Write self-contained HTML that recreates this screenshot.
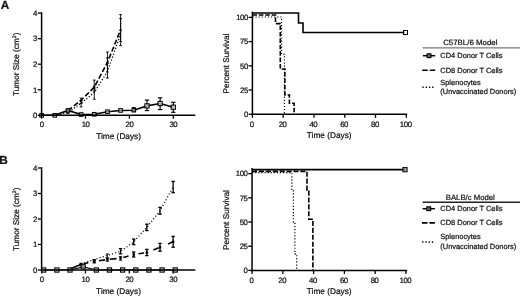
<!DOCTYPE html>
<html><head><meta charset="utf-8"><title>Figure</title>
<style>html,body{margin:0;padding:0;background:#fff;}svg{display:block;will-change:transform;}text{text-rendering:geometricPrecision;}</style>
</head><body>
<svg width="520" height="298" viewBox="0 0 520 298" font-family='"Liberation Sans", Arial, sans-serif' fill="#111" stroke="#000">
<rect width="520" height="298" fill="#fff" stroke="none"/>
<g id="A-left">
<path d="M67.94 110.45 L81.11 100.23 L94.28 87.19 L107.45 62.41 L120.62 29.71" fill="none" stroke-width="1.6" stroke-dasharray="5.2 2.3"/>
<path d="M41.60 115.30 L54.77 115.30 L67.94 112.74 L81.11 103.04 L94.28 92.56 L107.45 71.35 L120.62 34.05" fill="none" stroke-width="1.3" stroke-dasharray="1.2 1.9"/>
<line x1="81.11" y1="98.10" x2="81.11" y2="103.50" stroke-width="0.9"/>
<line x1="79.71" y1="98.10" x2="82.51" y2="98.10" stroke-width="0.9"/>
<line x1="79.71" y1="103.50" x2="82.51" y2="103.50" stroke-width="0.9"/>
<line x1="81.11" y1="100.50" x2="81.11" y2="107.00" stroke-width="0.9"/>
<line x1="79.71" y1="100.50" x2="82.51" y2="100.50" stroke-width="0.9"/>
<line x1="79.71" y1="107.00" x2="82.51" y2="107.00" stroke-width="0.9"/>
<line x1="94.28" y1="80.10" x2="94.28" y2="91.20" stroke-width="0.9"/>
<line x1="92.88" y1="80.10" x2="95.68" y2="80.10" stroke-width="0.9"/>
<line x1="92.88" y1="91.20" x2="95.68" y2="91.20" stroke-width="0.9"/>
<line x1="94.28" y1="86.00" x2="94.28" y2="99.20" stroke-width="0.9"/>
<line x1="92.88" y1="86.00" x2="95.68" y2="86.00" stroke-width="0.9"/>
<line x1="92.88" y1="99.20" x2="95.68" y2="99.20" stroke-width="0.9"/>
<line x1="107.45" y1="52.00" x2="107.45" y2="72.00" stroke-width="0.9"/>
<line x1="106.05" y1="52.00" x2="108.85" y2="52.00" stroke-width="0.9"/>
<line x1="106.05" y1="72.00" x2="108.85" y2="72.00" stroke-width="0.9"/>
<line x1="107.45" y1="57.80" x2="107.45" y2="78.00" stroke-width="0.9"/>
<line x1="106.05" y1="57.80" x2="108.85" y2="57.80" stroke-width="0.9"/>
<line x1="106.05" y1="78.00" x2="108.85" y2="78.00" stroke-width="0.9"/>
<line x1="120.62" y1="14.60" x2="120.62" y2="41.60" stroke-width="0.9"/>
<line x1="119.22" y1="14.60" x2="122.02" y2="14.60" stroke-width="0.9"/>
<line x1="119.22" y1="41.60" x2="122.02" y2="41.60" stroke-width="0.9"/>
<line x1="120.62" y1="18.50" x2="120.62" y2="45.60" stroke-width="0.9"/>
<line x1="119.22" y1="18.50" x2="122.02" y2="18.50" stroke-width="0.9"/>
<line x1="119.22" y1="45.60" x2="122.02" y2="45.60" stroke-width="0.9"/>
<line x1="67.94" y1="109.50" x2="67.94" y2="113.50" stroke-width="0.9"/>
<line x1="66.54" y1="109.50" x2="69.34" y2="109.50" stroke-width="0.9"/>
<line x1="66.54" y1="113.50" x2="69.34" y2="113.50" stroke-width="0.9"/>
<path d="M66.34 111.75 L69.54 111.75 L67.94 108.85Z" fill="#000" stroke="none"/>
<path d="M79.51 101.53 L82.71 101.53 L81.11 98.63Z" fill="#000" stroke="none"/>
<path d="M92.68 88.49 L95.88 88.49 L94.28 85.59Z" fill="#000" stroke="none"/>
<path d="M105.85 63.71 L109.05 63.71 L107.45 60.81Z" fill="#000" stroke="none"/>
<path d="M119.02 31.01 L122.22 31.01 L120.62 28.11Z" fill="#000" stroke="none"/>
<path d="M41.60 115.30 L54.77 115.30 L67.94 110.45 L81.11 114.53 L94.28 114.28 L107.45 111.72 L120.62 110.45 L133.79 110.19 L146.96 105.90 L160.13 103.50 L173.30 107.20" fill="none" stroke-width="1.6"/>
<line x1="146.96" y1="100.10" x2="146.96" y2="110.60" stroke-width="1.15"/>
<line x1="144.76" y1="100.10" x2="149.16" y2="100.10" stroke-width="1.15"/>
<line x1="144.76" y1="110.60" x2="149.16" y2="110.60" stroke-width="1.15"/>
<line x1="160.13" y1="97.80" x2="160.13" y2="109.60" stroke-width="1.15"/>
<line x1="157.93" y1="97.80" x2="162.33" y2="97.80" stroke-width="1.15"/>
<line x1="157.93" y1="109.60" x2="162.33" y2="109.60" stroke-width="1.15"/>
<line x1="173.30" y1="102.30" x2="173.30" y2="112.30" stroke-width="1.15"/>
<line x1="171.10" y1="102.30" x2="175.50" y2="102.30" stroke-width="1.15"/>
<line x1="171.10" y1="112.30" x2="175.50" y2="112.30" stroke-width="1.15"/>
<line x1="133.79" y1="107.50" x2="133.79" y2="111.50" stroke-width="0.9"/>
<line x1="131.99" y1="107.50" x2="135.59" y2="107.50" stroke-width="0.9"/>
<line x1="131.99" y1="111.50" x2="135.59" y2="111.50" stroke-width="0.9"/>
<rect x="39.80" y="113.50" width="3.6" height="3.6" fill="#fff" fill-opacity="0.45" stroke-width="1.05"/>
<rect x="52.97" y="113.50" width="3.6" height="3.6" fill="#fff" fill-opacity="0.45" stroke-width="1.05"/>
<rect x="66.14" y="108.65" width="3.6" height="3.6" fill="#fff" fill-opacity="0.45" stroke-width="1.05"/>
<rect x="79.31" y="112.73" width="3.6" height="3.6" fill="#fff" fill-opacity="0.45" stroke-width="1.05"/>
<rect x="92.48" y="112.48" width="3.6" height="3.6" fill="#fff" fill-opacity="0.45" stroke-width="1.05"/>
<rect x="105.65" y="109.92" width="3.6" height="3.6" fill="#fff" fill-opacity="0.45" stroke-width="1.05"/>
<rect x="118.82" y="108.65" width="3.6" height="3.6" fill="#fff" fill-opacity="0.45" stroke-width="1.05"/>
<rect x="131.99" y="108.39" width="3.6" height="3.6" fill="#fff" fill-opacity="0.45" stroke-width="1.05"/>
<rect x="144.86" y="103.80" width="4.2" height="4.2" fill="#fff" fill-opacity="0.65" stroke-width="1.05"/>
<rect x="158.03" y="101.40" width="4.2" height="4.2" fill="#fff" fill-opacity="0.65" stroke-width="1.05"/>
<rect x="171.20" y="105.10" width="4.2" height="4.2" fill="#fff" fill-opacity="0.65" stroke-width="1.05"/>
<g>
<line x1="41.60" y1="12.25" x2="41.60" y2="116.05" stroke-width="1.5"/>
<line x1="40.85" y1="115.30" x2="195.30" y2="115.30" stroke-width="1.5"/>
<line x1="37.80" y1="115.30" x2="41.60" y2="115.30" stroke-width="1.3"/>
<text stroke="#111" stroke-width="0.22" x="36.80" y="118.10" font-size="7.8" text-anchor="end" letter-spacing="-0.45">0</text>
<line x1="37.80" y1="89.75" x2="41.60" y2="89.75" stroke-width="1.3"/>
<text stroke="#111" stroke-width="0.22" x="36.80" y="92.55" font-size="7.8" text-anchor="end" letter-spacing="-0.45">1</text>
<line x1="37.80" y1="64.20" x2="41.60" y2="64.20" stroke-width="1.3"/>
<text stroke="#111" stroke-width="0.22" x="36.80" y="67.00" font-size="7.8" text-anchor="end" letter-spacing="-0.45">2</text>
<line x1="37.80" y1="38.65" x2="41.60" y2="38.65" stroke-width="1.3"/>
<text stroke="#111" stroke-width="0.22" x="36.80" y="41.45" font-size="7.8" text-anchor="end" letter-spacing="-0.45">3</text>
<line x1="37.80" y1="13.10" x2="41.60" y2="13.10" stroke-width="1.3"/>
<text stroke="#111" stroke-width="0.22" x="36.80" y="15.90" font-size="7.8" text-anchor="end" letter-spacing="-0.45">4</text>
<line x1="41.60" y1="115.30" x2="41.60" y2="118.70" stroke-width="1.3"/>
<text stroke="#111" stroke-width="0.22" x="41.65" y="127.00" font-size="7.8" text-anchor="middle" letter-spacing="-0.45">0</text>
<line x1="85.50" y1="115.30" x2="85.50" y2="118.70" stroke-width="1.3"/>
<text stroke="#111" stroke-width="0.22" x="85.55" y="127.00" font-size="7.8" text-anchor="middle" letter-spacing="-0.45">10</text>
<line x1="129.40" y1="115.30" x2="129.40" y2="118.70" stroke-width="1.3"/>
<text stroke="#111" stroke-width="0.22" x="129.45" y="127.00" font-size="7.8" text-anchor="middle" letter-spacing="-0.45">20</text>
<line x1="173.30" y1="115.30" x2="173.30" y2="118.70" stroke-width="1.3"/>
<text stroke="#111" stroke-width="0.22" x="173.35" y="127.00" font-size="7.8" text-anchor="middle" letter-spacing="-0.45">30</text>
<text stroke="#111" stroke-width="0.22" x="118.62" y="139.00" font-size="8.25" text-anchor="middle" textLength="44.80" lengthAdjust="spacingAndGlyphs">Time (Days)</text>
<text stroke="#111" stroke-width="0.22" x="19.20" y="64.30" font-size="8.25" text-anchor="middle" textLength="63.4" lengthAdjust="spacingAndGlyphs" transform="rotate(-90 19.20 64.30)">Tumor Size (cm<tspan font-size="5.2" dy="-3">2</tspan><tspan dy="3">)</tspan></text>
<text stroke="#111" stroke-width="0.22" x="0.70" y="8.70" font-size="11.8" text-anchor="start" font-weight="bold">A</text>
</g></g>
<g id="A-right">
<path d="M252.40 13.00 L298.50 13.00 L298.50 23.00 L303.00 23.00 L303.00 32.50 L405.00 32.50" fill="none" stroke-width="1.6" stroke-linejoin="miter"/>
<rect x="403.50" y="30.50" width="4.0" height="4.0" fill="#fff" fill-opacity="0.55" stroke-width="1.0"/>
<path d="M252.40 15.00 L275.50 15.00 L275.50 23.60 L280.30 23.60 L280.30 69.00 L284.90 69.00 L284.90 95.00 L289.40 95.00 L289.40 103.30 L294.10 103.30 L294.10 113.40" fill="none" stroke-width="1.6" stroke-dasharray="4.6 1.8"/>
<path d="M252.40 17.00 L281.60 17.00 L281.60 54.20 L284.40 54.20 L284.40 113.40" fill="none" stroke-width="1.1" stroke-dasharray="1.2 1.9"/>
<g>
<line x1="252.40" y1="11.65" x2="252.40" y2="115.00" stroke-width="1.5"/>
<line x1="251.65" y1="114.25" x2="407.20" y2="114.25" stroke-width="1.5"/>
<line x1="248.60" y1="114.25" x2="252.40" y2="114.25" stroke-width="1.3"/>
<text stroke="#111" stroke-width="0.22" x="247.80" y="117.05" font-size="7.8" text-anchor="end" letter-spacing="-0.45">0</text>
<line x1="248.60" y1="90.04" x2="252.40" y2="90.04" stroke-width="1.3"/>
<text stroke="#111" stroke-width="0.22" x="247.80" y="92.84" font-size="7.8" text-anchor="end" letter-spacing="-0.45">25</text>
<line x1="248.60" y1="65.82" x2="252.40" y2="65.82" stroke-width="1.3"/>
<text stroke="#111" stroke-width="0.22" x="247.80" y="68.62" font-size="7.8" text-anchor="end" letter-spacing="-0.45">50</text>
<line x1="248.60" y1="41.61" x2="252.40" y2="41.61" stroke-width="1.3"/>
<text stroke="#111" stroke-width="0.22" x="247.80" y="44.41" font-size="7.8" text-anchor="end" letter-spacing="-0.45">75</text>
<line x1="248.60" y1="17.40" x2="252.40" y2="17.40" stroke-width="1.3"/>
<text stroke="#111" stroke-width="0.22" x="247.80" y="20.20" font-size="7.8" text-anchor="end" letter-spacing="-0.45">100</text>
<line x1="252.40" y1="114.25" x2="252.40" y2="117.85" stroke-width="1.3"/>
<text stroke="#111" stroke-width="0.22" x="251.80" y="126.60" font-size="7.8" text-anchor="middle" letter-spacing="-0.45">0</text>
<line x1="283.18" y1="114.25" x2="283.18" y2="117.85" stroke-width="1.3"/>
<text stroke="#111" stroke-width="0.22" x="282.58" y="126.60" font-size="7.8" text-anchor="middle" letter-spacing="-0.45">20</text>
<line x1="313.96" y1="114.25" x2="313.96" y2="117.85" stroke-width="1.3"/>
<text stroke="#111" stroke-width="0.22" x="313.36" y="126.60" font-size="7.8" text-anchor="middle" letter-spacing="-0.45">40</text>
<line x1="344.74" y1="114.25" x2="344.74" y2="117.85" stroke-width="1.3"/>
<text stroke="#111" stroke-width="0.22" x="344.14" y="126.60" font-size="7.8" text-anchor="middle" letter-spacing="-0.45">60</text>
<line x1="375.52" y1="114.25" x2="375.52" y2="117.85" stroke-width="1.3"/>
<text stroke="#111" stroke-width="0.22" x="374.92" y="126.60" font-size="7.8" text-anchor="middle" letter-spacing="-0.45">80</text>
<line x1="406.30" y1="114.25" x2="406.30" y2="117.85" stroke-width="1.3"/>
<text stroke="#111" stroke-width="0.22" x="405.70" y="126.60" font-size="7.8" text-anchor="middle" letter-spacing="-0.45">100</text>
<text stroke="#111" stroke-width="0.22" x="329.20" y="137.70" font-size="8.25" text-anchor="middle" textLength="44.80" lengthAdjust="spacingAndGlyphs">Time (Days)</text>
<text stroke="#111" stroke-width="0.22" x="228.90" y="63.50" font-size="8.25" text-anchor="middle" textLength="59.80" lengthAdjust="spacingAndGlyphs" transform="rotate(-90 228.90 63.50)">Percent Survival</text>
</g></g>
<g id="B-left">
<line x1="70.10" y1="269.03" x2="80.60" y2="264.41" stroke-width="1.6"/>
<line x1="83.50" y1="263.70" x2="88.30" y2="262.72" stroke-width="1.6"/>
<line x1="99.00" y1="260.77" x2="105.00" y2="259.86" stroke-width="1.6"/>
<line x1="109.80" y1="259.26" x2="116.50" y2="258.60" stroke-width="1.6"/>
<line x1="123.30" y1="257.42" x2="128.50" y2="255.96" stroke-width="1.6"/>
<line x1="138.50" y1="253.77" x2="144.00" y2="252.93" stroke-width="1.6"/>
<line x1="153.40" y1="249.91" x2="158.70" y2="247.81" stroke-width="1.6"/>
<line x1="168.00" y1="243.95" x2="172.40" y2="242.11" stroke-width="1.6"/>
<rect x="79.86" y="263.00" width="2.4" height="2.4" fill="#000" stroke="none"/>
<rect x="93.02" y="260.30" width="2.4" height="2.4" fill="#000" stroke="none"/>
<rect x="106.17" y="258.30" width="2.4" height="2.4" fill="#000" stroke="none"/>
<rect x="119.33" y="257.00" width="2.4" height="2.4" fill="#000" stroke="none"/>
<rect x="132.49" y="253.30" width="2.4" height="2.4" fill="#000" stroke="none"/>
<rect x="145.64" y="251.30" width="2.4" height="2.4" fill="#000" stroke="none"/>
<rect x="158.80" y="246.10" width="2.4" height="2.4" fill="#000" stroke="none"/>
<rect x="171.95" y="240.60" width="2.4" height="2.4" fill="#000" stroke="none"/>
<path d="M81.06 264.00 L94.22 259.50 L107.38 255.50 L120.53 251.30 L133.69 241.90 L146.84 227.40 L160.00 210.80 L173.15 187.00" fill="none" stroke-width="1.2" stroke-dasharray="1.15 2.1"/>
<line x1="173.15" y1="236.40" x2="173.15" y2="247.20" stroke-width="1.3"/>
<line x1="171.45" y1="236.40" x2="174.85" y2="236.40" stroke-width="1.3"/>
<line x1="171.45" y1="247.20" x2="174.85" y2="247.20" stroke-width="1.3"/>
<line x1="160.00" y1="243.40" x2="160.00" y2="251.20" stroke-width="1.3"/>
<line x1="158.30" y1="243.40" x2="161.69" y2="243.40" stroke-width="1.3"/>
<line x1="158.30" y1="251.20" x2="161.69" y2="251.20" stroke-width="1.3"/>
<line x1="146.84" y1="249.40" x2="146.84" y2="255.60" stroke-width="1.3"/>
<line x1="145.14" y1="249.40" x2="148.54" y2="249.40" stroke-width="1.3"/>
<line x1="145.14" y1="255.60" x2="148.54" y2="255.60" stroke-width="1.3"/>
<line x1="133.69" y1="252.00" x2="133.69" y2="257.00" stroke-width="1.3"/>
<line x1="131.99" y1="252.00" x2="135.38" y2="252.00" stroke-width="1.3"/>
<line x1="131.99" y1="257.00" x2="135.38" y2="257.00" stroke-width="1.3"/>
<line x1="120.53" y1="256.60" x2="120.53" y2="260.20" stroke-width="0.9"/>
<line x1="118.83" y1="256.60" x2="122.23" y2="256.60" stroke-width="0.9"/>
<line x1="118.83" y1="260.20" x2="122.23" y2="260.20" stroke-width="0.9"/>
<line x1="107.38" y1="258.00" x2="107.38" y2="261.20" stroke-width="0.9"/>
<line x1="105.67" y1="258.00" x2="109.08" y2="258.00" stroke-width="0.9"/>
<line x1="105.67" y1="261.20" x2="109.08" y2="261.20" stroke-width="0.9"/>
<line x1="94.22" y1="260.40" x2="94.22" y2="263.00" stroke-width="0.9"/>
<line x1="92.52" y1="260.40" x2="95.92" y2="260.40" stroke-width="0.9"/>
<line x1="92.52" y1="263.00" x2="95.92" y2="263.00" stroke-width="0.9"/>
<line x1="81.06" y1="263.20" x2="81.06" y2="265.80" stroke-width="0.9"/>
<line x1="79.36" y1="263.20" x2="82.77" y2="263.20" stroke-width="0.9"/>
<line x1="79.36" y1="265.80" x2="82.77" y2="265.80" stroke-width="0.9"/>
<line x1="173.15" y1="181.40" x2="173.15" y2="192.70" stroke-width="1.3"/>
<line x1="171.45" y1="181.40" x2="174.85" y2="181.40" stroke-width="1.3"/>
<line x1="171.45" y1="192.70" x2="174.85" y2="192.70" stroke-width="1.3"/>
<line x1="160.00" y1="207.40" x2="160.00" y2="214.20" stroke-width="1.3"/>
<line x1="158.30" y1="207.40" x2="161.69" y2="207.40" stroke-width="1.3"/>
<line x1="158.30" y1="214.20" x2="161.69" y2="214.20" stroke-width="1.3"/>
<line x1="146.84" y1="224.20" x2="146.84" y2="230.60" stroke-width="1.3"/>
<line x1="145.14" y1="224.20" x2="148.54" y2="224.20" stroke-width="1.3"/>
<line x1="145.14" y1="230.60" x2="148.54" y2="230.60" stroke-width="1.3"/>
<line x1="133.69" y1="239.10" x2="133.69" y2="244.60" stroke-width="1.3"/>
<line x1="131.99" y1="239.10" x2="135.38" y2="239.10" stroke-width="1.3"/>
<line x1="131.99" y1="244.60" x2="135.38" y2="244.60" stroke-width="1.3"/>
<line x1="120.53" y1="248.60" x2="120.53" y2="253.90" stroke-width="1.3"/>
<line x1="118.83" y1="248.60" x2="122.23" y2="248.60" stroke-width="1.3"/>
<line x1="118.83" y1="253.90" x2="122.23" y2="253.90" stroke-width="1.3"/>
<line x1="107.38" y1="254.00" x2="107.38" y2="258.00" stroke-width="0.9"/>
<line x1="105.67" y1="254.00" x2="109.08" y2="254.00" stroke-width="0.9"/>
<line x1="105.67" y1="258.00" x2="109.08" y2="258.00" stroke-width="0.9"/>
<line x1="94.22" y1="259.50" x2="94.22" y2="262.00" stroke-width="0.9"/>
<line x1="92.52" y1="259.50" x2="95.92" y2="259.50" stroke-width="0.9"/>
<line x1="92.52" y1="262.00" x2="95.92" y2="262.00" stroke-width="0.9"/>
<path d="M43.70 270.00 L56.86 270.00 L70.01 270.00 L83.16 266.81 L96.32 270.00 L109.47 270.00 L122.63 270.00 L135.78 270.00 L148.94 270.00 L162.09 270.00 L175.25 270.00" fill="none" stroke-width="1.2"/>
<rect x="41.55" y="267.85" width="4.3" height="4.3" fill="#999" fill-opacity="0.6" stroke-width="1.0"/>
<rect x="54.71" y="267.85" width="4.3" height="4.3" fill="#999" fill-opacity="0.6" stroke-width="1.0"/>
<rect x="67.86" y="267.85" width="4.3" height="4.3" fill="#999" fill-opacity="0.6" stroke-width="1.0"/>
<rect x="81.01" y="264.66" width="4.3" height="4.3" fill="#999" fill-opacity="0.6" stroke-width="1.0"/>
<rect x="94.17" y="267.85" width="4.3" height="4.3" fill="#999" fill-opacity="0.6" stroke-width="1.0"/>
<rect x="107.32" y="267.85" width="4.3" height="4.3" fill="#999" fill-opacity="0.6" stroke-width="1.0"/>
<rect x="120.48" y="267.85" width="4.3" height="4.3" fill="#999" fill-opacity="0.6" stroke-width="1.0"/>
<rect x="133.63" y="267.85" width="4.3" height="4.3" fill="#999" fill-opacity="0.6" stroke-width="1.0"/>
<rect x="146.79" y="267.85" width="4.3" height="4.3" fill="#999" fill-opacity="0.6" stroke-width="1.0"/>
<rect x="159.94" y="267.85" width="4.3" height="4.3" fill="#999" fill-opacity="0.6" stroke-width="1.0"/>
<rect x="173.10" y="267.85" width="4.3" height="4.3" fill="#999" fill-opacity="0.6" stroke-width="1.0"/>
<g>
<line x1="41.60" y1="167.25" x2="41.60" y2="270.75" stroke-width="1.5"/>
<line x1="40.85" y1="270.00" x2="195.30" y2="270.00" stroke-width="1.5"/>
<line x1="37.80" y1="270.00" x2="41.60" y2="270.00" stroke-width="1.3"/>
<text stroke="#111" stroke-width="0.22" x="36.80" y="272.80" font-size="7.8" text-anchor="end" letter-spacing="-0.45">0</text>
<line x1="37.80" y1="244.50" x2="41.60" y2="244.50" stroke-width="1.3"/>
<text stroke="#111" stroke-width="0.22" x="36.80" y="247.30" font-size="7.8" text-anchor="end" letter-spacing="-0.45">1</text>
<line x1="37.80" y1="219.00" x2="41.60" y2="219.00" stroke-width="1.3"/>
<text stroke="#111" stroke-width="0.22" x="36.80" y="221.80" font-size="7.8" text-anchor="end" letter-spacing="-0.45">2</text>
<line x1="37.80" y1="193.50" x2="41.60" y2="193.50" stroke-width="1.3"/>
<text stroke="#111" stroke-width="0.22" x="36.80" y="196.30" font-size="7.8" text-anchor="end" letter-spacing="-0.45">3</text>
<line x1="37.80" y1="168.00" x2="41.60" y2="168.00" stroke-width="1.3"/>
<text stroke="#111" stroke-width="0.22" x="36.80" y="170.80" font-size="7.8" text-anchor="end" letter-spacing="-0.45">4</text>
<line x1="41.60" y1="270.00" x2="41.60" y2="273.40" stroke-width="1.3"/>
<text stroke="#111" stroke-width="0.22" x="41.65" y="281.80" font-size="7.8" text-anchor="middle" letter-spacing="-0.45">0</text>
<line x1="85.45" y1="270.00" x2="85.45" y2="273.40" stroke-width="1.3"/>
<text stroke="#111" stroke-width="0.22" x="85.50" y="281.80" font-size="7.8" text-anchor="middle" letter-spacing="-0.45">10</text>
<line x1="129.30" y1="270.00" x2="129.30" y2="273.40" stroke-width="1.3"/>
<text stroke="#111" stroke-width="0.22" x="129.35" y="281.80" font-size="7.8" text-anchor="middle" letter-spacing="-0.45">20</text>
<line x1="173.15" y1="270.00" x2="173.15" y2="273.40" stroke-width="1.3"/>
<text stroke="#111" stroke-width="0.22" x="173.20" y="281.80" font-size="7.8" text-anchor="middle" letter-spacing="-0.45">30</text>
<text stroke="#111" stroke-width="0.22" x="118.54" y="293.60" font-size="8.25" text-anchor="middle" textLength="44.80" lengthAdjust="spacingAndGlyphs">Time (Days)</text>
<text stroke="#111" stroke-width="0.22" x="19.20" y="219.30" font-size="8.25" text-anchor="middle" textLength="63.4" lengthAdjust="spacingAndGlyphs" transform="rotate(-90 19.20 219.30)">Tumor Size (cm<tspan font-size="5.2" dy="-3">2</tspan><tspan dy="3">)</tspan></text>
<text stroke="#111" stroke-width="0.22" x="-0.70" y="164.40" font-size="11.8" text-anchor="start" font-weight="bold">B</text>
</g></g>
<g id="B-right">
<path d="M252.05 169.60 L404.80 169.60" fill="none" stroke-width="1.6"/>
<rect x="402.90" y="167.60" width="4.2" height="4.2" fill="#888" fill-opacity="0.7" stroke-width="1.0"/>
<path d="M252.05 171.40 L307.00 171.40 L307.00 190.20 L308.80 190.20 L308.80 219.20 L312.90 219.20 L312.90 270.00" fill="none" stroke-width="1.6" stroke-dasharray="5.1 1.8"/>
<path d="M252.05 172.70 L291.90 172.70 L291.90 189.50 L293.40 189.50 L293.40 222.20 L294.90 222.20 L294.90 253.90 L296.70 253.90 L296.70 270.00" fill="none" stroke-width="1.2" stroke-dasharray="1.2 1.9"/>
<g>
<line x1="252.05" y1="167.95" x2="252.05" y2="271.15" stroke-width="1.5"/>
<line x1="251.30" y1="270.40" x2="407.20" y2="270.40" stroke-width="1.5"/>
<line x1="248.25" y1="270.40" x2="252.05" y2="270.40" stroke-width="1.3"/>
<text stroke="#111" stroke-width="0.22" x="247.45" y="273.20" font-size="7.8" text-anchor="end" letter-spacing="-0.45">0</text>
<line x1="248.25" y1="246.21" x2="252.05" y2="246.21" stroke-width="1.3"/>
<text stroke="#111" stroke-width="0.22" x="247.45" y="249.01" font-size="7.8" text-anchor="end" letter-spacing="-0.45">25</text>
<line x1="248.25" y1="222.02" x2="252.05" y2="222.02" stroke-width="1.3"/>
<text stroke="#111" stroke-width="0.22" x="247.45" y="224.82" font-size="7.8" text-anchor="end" letter-spacing="-0.45">50</text>
<line x1="248.25" y1="197.84" x2="252.05" y2="197.84" stroke-width="1.3"/>
<text stroke="#111" stroke-width="0.22" x="247.45" y="200.64" font-size="7.8" text-anchor="end" letter-spacing="-0.45">75</text>
<line x1="248.25" y1="173.65" x2="252.05" y2="173.65" stroke-width="1.3"/>
<text stroke="#111" stroke-width="0.22" x="247.45" y="176.45" font-size="7.8" text-anchor="end" letter-spacing="-0.45">100</text>
<line x1="252.05" y1="270.40" x2="252.05" y2="274.00" stroke-width="1.3"/>
<text stroke="#111" stroke-width="0.22" x="251.45" y="282.60" font-size="7.8" text-anchor="middle" letter-spacing="-0.45">0</text>
<line x1="282.83" y1="270.40" x2="282.83" y2="274.00" stroke-width="1.3"/>
<text stroke="#111" stroke-width="0.22" x="282.23" y="282.60" font-size="7.8" text-anchor="middle" letter-spacing="-0.45">20</text>
<line x1="313.61" y1="270.40" x2="313.61" y2="274.00" stroke-width="1.3"/>
<text stroke="#111" stroke-width="0.22" x="313.01" y="282.60" font-size="7.8" text-anchor="middle" letter-spacing="-0.45">40</text>
<line x1="344.39" y1="270.40" x2="344.39" y2="274.00" stroke-width="1.3"/>
<text stroke="#111" stroke-width="0.22" x="343.79" y="282.60" font-size="7.8" text-anchor="middle" letter-spacing="-0.45">60</text>
<line x1="375.17" y1="270.40" x2="375.17" y2="274.00" stroke-width="1.3"/>
<text stroke="#111" stroke-width="0.22" x="374.57" y="282.60" font-size="7.8" text-anchor="middle" letter-spacing="-0.45">80</text>
<line x1="405.95" y1="270.40" x2="405.95" y2="274.00" stroke-width="1.3"/>
<text stroke="#111" stroke-width="0.22" x="405.35" y="282.60" font-size="7.8" text-anchor="middle" letter-spacing="-0.45">100</text>
<text stroke="#111" stroke-width="0.22" x="329.20" y="294.30" font-size="8.25" text-anchor="middle" textLength="44.80" lengthAdjust="spacingAndGlyphs">Time (Days)</text>
<text stroke="#111" stroke-width="0.22" x="228.90" y="220.00" font-size="8.25" text-anchor="middle" textLength="59.80" lengthAdjust="spacingAndGlyphs" transform="rotate(-90 228.90 220.00)">Percent Survival</text>
</g></g>
<g id="legends">
<g>
<text stroke="#111" stroke-width="0.22" x="470.30" y="44.80" font-size="7.6" text-anchor="middle" textLength="54.30" lengthAdjust="spacingAndGlyphs">C57BL/6 Model</text>
<line x1="422.60" y1="47.80" x2="520.00" y2="47.80" stroke-width="1.3" stroke="#777"/>
<line x1="422.90" y1="55.70" x2="435.20" y2="55.70" stroke-width="1.5"/>
<rect x="427.15" y="53.80" width="3.8" height="3.8" fill="#666" stroke-width="1.1"/>
<text stroke="#111" stroke-width="0.22" x="440.30" y="58.30" font-size="7.5" text-anchor="start" textLength="62.20" lengthAdjust="spacingAndGlyphs">CD4 Donor T Cells</text>
<path d="M422.20 70.20 L435.20 70.20" fill="none" stroke-width="1.6" stroke-dasharray="5.6 1.9"/>
<text stroke="#111" stroke-width="0.22" x="440.30" y="72.70" font-size="7.5" text-anchor="start" textLength="62.20" lengthAdjust="spacingAndGlyphs">CD8 Donor T Cells</text>
<text stroke="#111" stroke-width="0.22" x="440.30" y="84.80" font-size="7.5" text-anchor="start" textLength="40.40" lengthAdjust="spacingAndGlyphs">Splenocytes</text>
<text stroke="#111" stroke-width="0.22" x="440.30" y="94.40" font-size="7.5" text-anchor="start" textLength="76.00" lengthAdjust="spacingAndGlyphs">(Unvaccinated Donors)</text>
<path d="M422.40 87.30 L433.50 87.30" fill="none" stroke-width="1.4" stroke-dasharray="1.35 1.9"/>
<text stroke="#111" stroke-width="0.22" x="470.30" y="199.80" font-size="7.6" text-anchor="middle" textLength="49.10" lengthAdjust="spacingAndGlyphs">BALB/c Model</text>
<line x1="422.60" y1="202.20" x2="520.00" y2="202.20" stroke-width="1.4" stroke="#222"/>
<line x1="422.60" y1="208.70" x2="434.90" y2="208.70" stroke-width="1.5"/>
<rect x="426.85" y="206.80" width="3.8" height="3.8" fill="#666" stroke-width="1.1"/>
<text stroke="#111" stroke-width="0.22" x="440.30" y="211.30" font-size="7.5" text-anchor="start" textLength="62.20" lengthAdjust="spacingAndGlyphs">CD4 Donor T Cells</text>
<path d="M421.90 222.90 L434.90 222.90" fill="none" stroke-width="1.6" stroke-dasharray="5.6 1.9"/>
<text stroke="#111" stroke-width="0.22" x="440.30" y="225.40" font-size="7.5" text-anchor="start" textLength="62.20" lengthAdjust="spacingAndGlyphs">CD8 Donor T Cells</text>
<text stroke="#111" stroke-width="0.22" x="440.30" y="239.20" font-size="7.5" text-anchor="start" textLength="40.40" lengthAdjust="spacingAndGlyphs">Splenocytes</text>
<text stroke="#111" stroke-width="0.22" x="440.30" y="248.50" font-size="7.5" text-anchor="start" textLength="76.00" lengthAdjust="spacingAndGlyphs">(Unvaccinated Donors)</text>
<path d="M422.10 242.00 L433.20 242.00" fill="none" stroke-width="1.4" stroke-dasharray="1.35 1.9"/>
</g></g>
</svg>
</body></html>
